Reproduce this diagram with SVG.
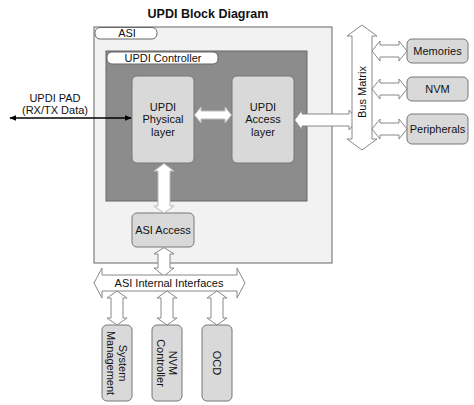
<svg xmlns="http://www.w3.org/2000/svg" width="474" height="405" viewBox="0 0 474 405">
<defs>
<marker id="ah" viewBox="0 0 10 10" refX="9" refY="5" markerWidth="7" markerHeight="7" orient="auto-start-reverse" markerUnits="userSpaceOnUse">
<path d="M0,1 L10,5 L0,9 Z" fill="#000"/>
</marker>
</defs>
<style>
text{font-family:"Liberation Sans",Arial,sans-serif;font-size:11px;fill:#111}
.title{font-size:12.5px;font-weight:bold}
.blk{fill:#d9d9d9;stroke:#777;stroke-width:1}
.pill{fill:#fff;stroke:#666;stroke-width:1}
.arr{fill:#fff;stroke:#888;stroke-width:1;stroke-linejoin:miter}
.arrd{fill:#fff;stroke:#bbb;stroke-width:1}
</style>
<rect width="474" height="405" fill="#fff"/>
<text class="title" x="208" y="18" text-anchor="middle">UPDI Block Diagram</text>

<g id="asi">
<rect x="94" y="27" width="238" height="236" fill="#f2f2f2" stroke="#666"/>
<rect class="pill" x="95" y="27.5" width="62" height="11.5" rx="5"/>
<text x="127" y="37" text-anchor="middle">ASI</text>
</g>
<g id="updi-controller">
<rect x="106" y="51" width="201" height="150" fill="#8c8c8c" stroke="#666"/>
<rect class="pill" x="107" y="52" width="111" height="12" rx="5"/>
<text x="163" y="62" text-anchor="middle">UPDI Controller</text>
</g>
<g id="physical">
<rect class="blk" x="132" y="76" width="62" height="87" rx="5"/>
<text x="163" y="111" text-anchor="middle">UPDI</text>
<text x="163" y="123" text-anchor="middle">Physical</text>
<text x="163" y="136" text-anchor="middle">layer</text>
</g>
<g id="access">
<rect class="blk" x="232" y="76" width="62" height="87" rx="5"/>
<text x="263" y="111" text-anchor="middle">UPDI</text>
<text x="263" y="123" text-anchor="middle">Access</text>
<text x="263" y="136" text-anchor="middle">layer</text>
</g>
<g id="asi-access">
<rect class="blk" x="132" y="213" width="62" height="34" rx="5"/>
<text x="163" y="234" text-anchor="middle">ASI Access</text>
</g>
<g id="memories">
<rect class="blk" x="407" y="39" width="61" height="24" rx="5"/>
<text x="437.5" y="55" text-anchor="middle">Memories</text>
</g>
<g id="nvm">
<rect class="blk" x="407" y="77" width="61" height="24" rx="5"/>
<text x="437.5" y="93" text-anchor="middle">NVM</text>
</g>
<g id="peripherals">
<rect class="blk" x="407" y="114" width="61" height="30" rx="5"/>
<text x="437.5" y="133" text-anchor="middle">Peripherals</text>
</g>
<g id="sysmgmt">
<rect class="blk" x="102" y="325" width="30" height="76" rx="5"/>
<text transform="translate(117,363) rotate(90)" text-anchor="middle"><tspan x="0" y="-2">System</tspan><tspan x="0" y="10">Management</tspan></text>
</g>
<g id="nvmctrl">
<rect class="blk" x="152" y="325" width="30" height="76" rx="5"/>
<text transform="translate(167,363) rotate(90)" text-anchor="middle"><tspan x="0" y="-2">NVM</tspan><tspan x="0" y="10">Controller</tspan></text>
</g>
<g id="ocd">
<rect class="blk" x="202" y="325" width="30" height="76" rx="5"/>
<text transform="translate(217,363) rotate(90)" text-anchor="middle" y="4">OCD</text>
</g>

<g id="connectors">
<line x1="10" y1="118" x2="131" y2="118" stroke="#000" stroke-width="1.3" marker-start="url(#ah)" marker-end="url(#ah)"/>
<text x="55" y="102" text-anchor="middle">UPDI PAD</text>
<text x="55" y="114" text-anchor="middle">(RX/TX Data)</text>
<!-- physical <-> access -->
<path class="arrd" d="M194.5,115 L201,107 L201,111 L225,111 L225,107 L231.5,115 L225,123 L225,119 L201,119 L201,123 Z"/>
<!-- access -> bus -->
<path class="arr" d="M294.5,120 L302,110 L302,114 L349,114 L349,110 L357,120 L349,130 L349,126 L302,126 L302,130 Z"/>
<!-- bus matrix -->
<path class="arr" d="M362,25 L377,36 L372,36 L372,139 L377,139 L362,150 L347,139 L352,139 L352,36 L347,36 Z"/>
<text transform="translate(366,92) rotate(-90)" text-anchor="middle">Bus Matrix</text>
<!-- side arrows -->
<path class="arr" d="M372,51 L380,41 L380,45 L399,45 L399,41 L407,51 L399,61 L399,57 L380,57 L380,61 Z"/>
<path class="arr" d="M372,89 L380,79 L380,83 L399,83 L399,79 L407,89 L399,99 L399,95 L380,95 L380,99 Z"/>
<path class="arr" d="M372,129 L380,119 L380,123 L399,123 L399,119 L407,129 L399,139 L399,135 L380,135 L380,139 Z"/>
<!-- physical <-> asi access -->
<path class="arrd" d="M164,163.5 L174,171 L170,171 L170,206 L174,206 L164,213 L154,206 L158,206 L158,171 L154,171 Z"/>
<!-- asi access <-> internal -->
<path class="arr" d="M164,247.5 L174,254 L170,254 L170,268 L174,268 L164,276 L154,268 L158,268 L158,254 L154,254 Z"/>
<!-- internal interfaces -->
<path class="arr" d="M94,283 L102,268 L102,275 L237,275 L237,268 L245,283 L237,298 L237,291 L102,291 L102,298 Z"/>
<text x="169" y="287" text-anchor="middle">ASI Internal Interfaces</text>
<!-- lower arrows -->
<path class="arr" d="M117,291 L127,298 L123,298 L123,318 L127,318 L117,325 L107,318 L111,318 L111,298 L107,298 Z"/>
<path class="arr" d="M167,291 L177,298 L173,298 L173,318 L177,318 L167,325 L157,318 L161,318 L161,298 L157,298 Z"/>
<path class="arr" d="M217,291 L227,298 L223,298 L223,318 L227,318 L217,325 L207,318 L211,318 L211,298 L207,298 Z"/>
</g>
</svg>
